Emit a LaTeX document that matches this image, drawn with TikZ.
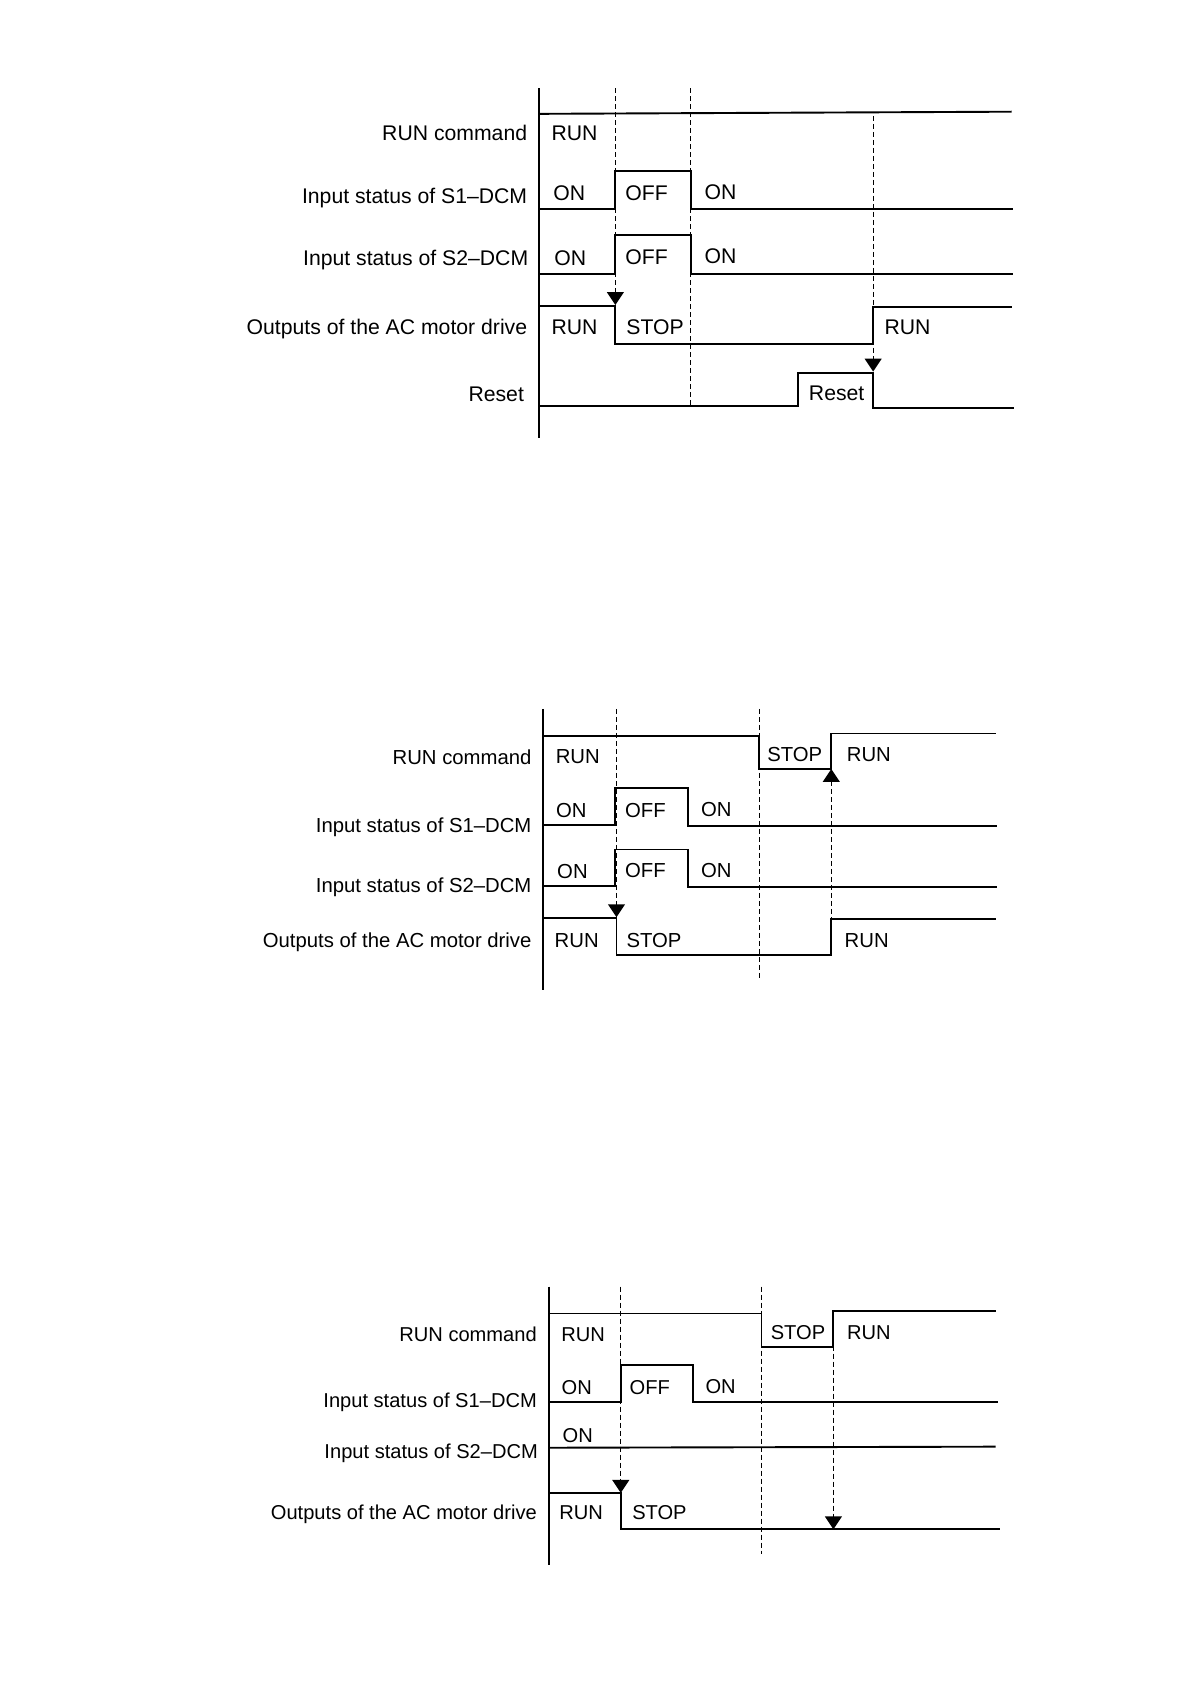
\documentclass[tikz,border=0pt]{standalone}
\usepackage{fontspec}
\setmainfont{Liberation Sans}
\begin{document}
\begin{tikzpicture}[x=1.074pt,y=-1.074pt,
  sig/.style={line width=1.9pt, line join=miter},
  axis/.style={line width=2pt},
  guide/.style={line width=0.9pt, dash pattern=on 5pt off 3pt},
  fs/.store in=\fsz, fs=21.2,
  lab/.style={font=\fontsize{\fsz}{25}\selectfont, inner sep=0pt, anchor=base east, yshift=-7.6pt},
  val/.style={font=\fontsize{\fsz}{25}\selectfont, inner sep=0pt, anchor=base, yshift=-7.6pt},
]
\useasboundingbox (0,0) rectangle (1108,1568);
\fill[white] (0,0) rectangle (1108,1568);

% ===================== Diagram 1 =====================
\draw[guide] (573,82) -- (573,274);
\draw[guide] (643,82) -- (643,378);
\draw[guide] (813,108) -- (813,335);
\draw[axis] (502,82) -- (502,408);
\draw[sig] (502,106) -- (942,104);
\draw[sig] (502,195) -- (573,195) -- (573,159) -- (643,159) -- (643,195) -- (943,195);
\draw[sig] (502,255) -- (573,255) -- (573,219) -- (643,219) -- (643,255) -- (943,255);
\draw[sig] (502,285) -- (573,285) -- (573,320) -- (813,320) -- (813,286) -- (942,286);
\draw[sig] (502,378) -- (743,378) -- (743,347) -- (813,347) -- (813,380) -- (944,380);
\fill (573,284) -- ++(-8,-12) -- ++(16,0) -- cycle;
\fill (813,346) -- ++(-8,-12) -- ++(16,0) -- cycle;

\node[lab] (l11) at (491,124) {RUN command};
\node[lab] (l12) at (491,182) {Input status of S1–DCM};
\node[lab] (l13) at (492,240) {Input status of S2–DCM};
\node[lab] (l14) at (491,304) {Outputs of the AC motor drive};
\node[lab] (l15) at (488,367) {Reset};
\node[val] (v11) at (535,124) {RUN};
\node[val] (v12) at (530,180) {ON};
\node[val] (v13) at (602,180) {OFF};
\node[val] (v14) at (671,179) {ON};
\node[val] (v15) at (531,240) {ON};
\node[val] (v16) at (602,239) {OFF};
\node[val] (v17) at (671,238) {ON};
\node[val] (v18) at (535,304) {RUN};
\node[val] (v19) at (610,304) {STOP};
\node[val] (v1a) at (845,304) {RUN};
\node[val] (v1b) at (779,366) {Reset};

% ===================== Diagram 2 =====================
\begin{scope}[fs=20.3]
\draw[guide] (574,660) -- (574,845);
\draw[guide] (707,660) -- (707,912);
\draw[guide] (774,727) -- (774,856);
\draw[axis] (506,660) -- (506,922);
\draw[sig] (506,685) -- (707,685) -- (707,716) -- (774,716) -- (774,683) -- (927,683);
\draw[sig] (506,768) -- (573,768) -- (573,734) -- (641,734) -- (641,769) -- (928,769);
\draw[sig] (506,825) -- (573,825) -- (573,791) -- (641,791) -- (641,826) -- (928,826);
\draw[sig] (506,855) -- (574,855) -- (574,889) -- (774,889) -- (774,856) -- (927,856);
\fill (574,854) -- ++(-8,-12) -- ++(16,0) -- cycle;
\fill (774,716) -- ++(-8,12) -- ++(16,0) -- cycle;

\node[lab] (l21) at (495,705) {RUN command};
\node[lab] (l22) at (495,768) {Input status of S1–DCM};
\node[lab] (l23) at (495,824) {Input status of S2–DCM};
\node[lab] (l24) at (495,875) {Outputs of the AC motor drive};
\node[val] (v21) at (538,704) {RUN};
\node[val] (v22) at (740,702) {STOP};
\node[val] (v23) at (809,702) {RUN};
\node[val] (v24) at (532,754) {ON};
\node[val] (v25) at (601,754) {OFF};
\node[val] (v26) at (667,753) {ON};
\node[val] (v27) at (533,811) {ON};
\node[val] (v28) at (601,810) {OFF};
\node[val] (v29) at (667,810) {ON};
\node[val] (v2a) at (537,875) {RUN};
\node[val] (v2b) at (609,875) {STOP};
\node[val] (v2c) at (807,875) {RUN};
\end{scope}

% ===================== Diagram 3 =====================
\begin{scope}[fs=20.1]
\draw[guide] (578,1198) -- (578,1380);
\draw[guide] (709,1198) -- (709,1447);
\draw[guide] (776,1253) -- (776,1414);
\draw[axis] (511,1198) -- (511,1457);
\draw[sig] (511,1223) -- (709,1223) -- (709,1254) -- (776,1254) -- (776,1221) -- (927,1221);
\draw[sig] (511,1305) -- (578,1305) -- (578,1271) -- (645,1271) -- (645,1305) -- (929,1305);
\draw[sig] (511,1348) -- (927,1347);
\draw[sig] (511,1390) -- (578,1390) -- (578,1424) -- (931,1424);
\fill (578,1390) -- ++(-8,-12) -- ++(16,0) -- cycle;
\fill (776,1424) -- ++(-8,-12) -- ++(16,0) -- cycle;

\node[lab] (l31) at (500,1242) {RUN command};
\node[lab] (l32) at (500,1303) {Input status of S1–DCM};
\node[lab] (l33) at (501,1351) {Input status of S2–DCM};
\node[lab] (l34) at (500,1408) {Outputs of the AC motor drive};
\node[val] (v31) at (543,1242) {RUN};
\node[val] (v32) at (743,1240) {STOP};
\node[val] (v33) at (809,1240) {RUN};
\node[val] (v34) at (537,1291) {ON};
\node[val] (v35) at (605,1291) {OFF};
\node[val] (v36) at (671,1290) {ON};
\node[val] (v37) at (538,1336) {ON};
\node[val] (v38) at (541,1408) {RUN};
\node[val] (v39) at (614,1408) {STOP};
\end{scope}
\end{tikzpicture}
\end{document}
